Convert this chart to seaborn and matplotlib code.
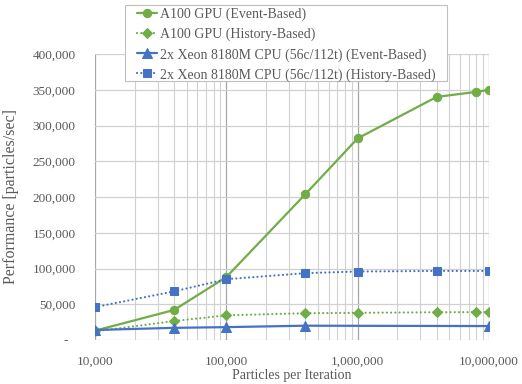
import matplotlib
matplotlib.use("Agg")
import matplotlib.pyplot as plt
import matplotlib.ticker as mticker
from matplotlib.patches import Rectangle
import seaborn as sns
import pandas as pd

# Measured throughput (particles/sec) versus batch size
gpu_event_x = [10000, 40000, 100000, 400000, 1000000, 4000000, 8000000, 10000000]
gpu_event_y = [13000, 42000, 88000, 204000, 282000, 340000, 347000, 350000]

gpu_hist_x = [10000, 40000, 100000, 400000, 1000000, 4000000, 8000000, 10000000]
gpu_hist_y = [12000, 26500, 34500, 37500, 38000, 38800, 39000, 39000]

cpu_event_x = [10000, 40000, 100000, 400000, 10000000]
cpu_event_y = [14000, 17000, 18000, 20000, 19500]

cpu_hist_x = [10000, 40000, 100000, 400000, 1000000, 4000000, 10000000]
cpu_hist_y = [46000, 68000, 85000, 93500, 95800, 96600, 96600]

series_names = [
    "A100 GPU (Event-Based)",
    "A100 GPU (History-Based)",
    "2x Xeon 8180M CPU (56c/112t) (Event-Based)",
    "2x Xeon 8180M CPU (56c/112t) (History-Based)",
]
x_ticks = [10000, 100000, 1000000, 10000000]
y_ticks = [0, 50000, 100000, 150000, 200000, 250000, 300000, 350000, 400000]

GREEN = "#70AD47"
BLUE = "#4472C4"
TEXT = "#595959"

sns.set_theme(style="white")
plt.rcParams["font.family"] = ["Liberation Serif", "DejaVu Serif"]

W, H = 522, 384
fig = plt.figure(figsize=(W / 100, H / 100), dpi=100)
ax = fig.add_axes([95 / W, 1 - 340 / H, (489 - 95) / W, (340 - 54) / H])

DOTS = (0, (0.01, 1.9))
styles = [
    (gpu_event_x, gpu_event_y, GREEN, "-", "o", 6.0),
    (gpu_hist_x, gpu_hist_y, GREEN, DOTS, "D", 5.0),
    (cpu_event_x, cpu_event_y, BLUE, "-", "^", 6.5),
    (cpu_hist_x, cpu_hist_y, BLUE, DOTS, "s", 6.0),
]
for name, (xs, ys, col, ls, mk, ms) in zip(series_names, styles):
    df = pd.DataFrame({"x": xs, "y": ys})
    sns.lineplot(data=df, x="x", y="y", ax=ax, color=col, linestyle=ls,
                 marker=mk, markersize=ms, markeredgecolor=col, linewidth=1.6,
                 label=name, zorder=3)
    ax.lines[-1].set_dash_capstyle("round")

ax.set_xscale("log")
ax.set_xlim(10000, 10000000)
ax.set_ylim(0, 400000)
ax.set_xticks(x_ticks)
ax.set_yticks(y_ticks)
ax.xaxis.set_major_formatter(mticker.FuncFormatter(lambda v, p: f"{v:,.0f}"))
ax.yaxis.set_major_formatter(
    mticker.FuncFormatter(lambda v, p: "-  " if v == 0 else f"{v:,.0f}"))
ax.xaxis.set_minor_locator(mticker.LogLocator(base=10, subs=range(2, 10)))
ax.xaxis.set_minor_formatter(mticker.NullFormatter())

ax.grid(True, which="major", axis="x", color="#a6a6a6", linewidth=0.9)
ax.grid(True, which="minor", axis="x", color="#d0d0d0", linewidth=0.8)
ax.grid(True, which="major", axis="y", color="#d0d0d0", linewidth=0.9)
ax.set_axisbelow(True)
for s in ax.spines.values():
    s.set_visible(False)

ax.tick_params(axis="y", which="both", length=0, labelsize=9.5,
               labelcolor=TEXT, pad=14)
ax.tick_params(axis="x", which="both", length=0, labelsize=9.5,
               labelcolor=TEXT, pad=11)
ax.set_xlabel("Particles per Iteration", fontsize=10, color=TEXT, labelpad=1)
ax.set_ylabel("Performance [particles/sec]", fontsize=11.5, color=TEXT)
ax.yaxis.set_label_coords(-(95 - 19) / 394, 0.5)

# legend box: white panel with a thin grey border, partly over the plot top
frame = Rectangle((125 / W, 1 - 81 / H), (447 - 125) / W, (81 - 5) / H,
                  transform=fig.transFigure, facecolor="white",
                  edgecolor="#bfbfbf", linewidth=0.8, zorder=5)
fig.patches.append(frame)

handles, labels = ax.get_legend_handles_labels()
ax.get_legend().remove()
leg = fig.legend(handles, labels, loc="upper left",
                 bbox_to_anchor=(137 / W, 1 - 8 / H), fontsize=10,
                 frameon=False, handlelength=1.45, handletextpad=0.2,
                 borderpad=0, labelspacing=0.47, borderaxespad=0)
leg.set_zorder(6)
for t in leg.get_texts():
    t.set_color(TEXT)

fig.savefig("out.png", dpi=100)
